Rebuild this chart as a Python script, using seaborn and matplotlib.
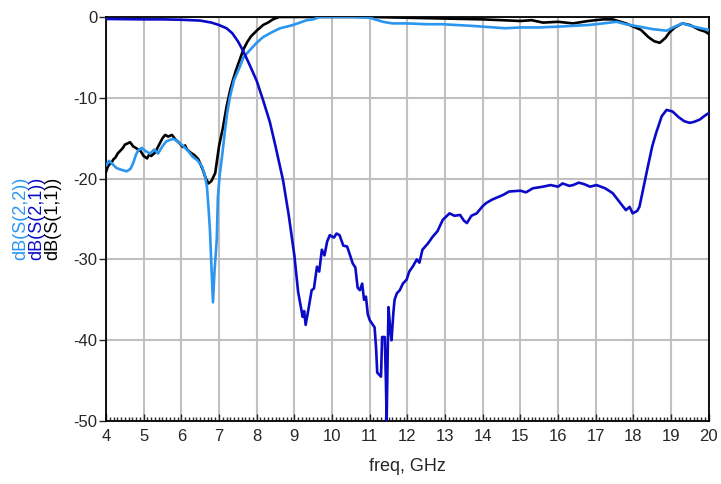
"""
S-parameter plot: dB(S(1,1)), dB(S(2,1)), dB(S(2,2)) vs frequency.
"""

import numpy as np
import pandas as pd
import matplotlib
matplotlib.use("Agg")
import matplotlib.pyplot as plt
from matplotlib.ticker import MultipleLocator
import seaborn as sns

# --- data (freq in GHz, level in dB) ---
s11_freq = [4.0, 4.04, 4.08, 4.15, 4.2, 4.25, 4.31, 4.37, 4.45, 4.5, 4.55, 4.64,
            4.72, 4.82, 4.92, 5.0, 5.09, 5.15, 5.2, 5.3, 5.4, 5.5, 5.57, 5.65,
            5.75, 5.85, 5.95, 6.04, 6.1, 6.15, 6.25, 6.35, 6.45, 6.57, 6.65,
            6.72, 6.8, 6.9, 7.0, 7.1, 7.2, 7.3, 7.37, 7.45, 7.55, 7.65, 7.75,
            7.85, 8.0, 8.17, 8.3, 8.43, 8.6, 9.0, 10.0, 11.0, 12.0, 13.0, 14.0,
            14.5, 15.0, 15.3, 15.6, 16.0, 16.4, 16.8, 17.2, 17.45, 17.8, 18.0,
            18.2, 18.4, 18.55, 18.7, 18.85, 18.96, 19.1, 19.3, 19.5, 19.76,
            19.9, 20.0]
s11_db = [-19.2, -18.6, -18.3, -18.0, -17.6, -17.4, -16.9, -16.6, -16.2, -15.8,
          -15.7, -15.5, -16.0, -16.3, -16.6, -17.2, -17.5, -17.0, -17.2, -16.8,
          -15.9, -15.0, -14.6, -14.8, -14.6, -15.2, -15.6, -16.1, -15.9, -16.4,
          -16.8, -17.1, -17.6, -18.9, -20.0, -20.6, -20.3, -19.3, -16.0, -13.8,
          -11.1, -9.0, -7.8, -6.6, -5.3, -4.0, -3.1, -2.4, -1.7, -1.0, -0.7,
          -0.3, 0.0, 0.0, 0.0, 0.0, -0.1, -0.2, -0.3, -0.4, -0.5, -0.4, -0.7,
          -0.6, -0.8, -0.5, -0.3, -0.3, -0.8, -1.2, -1.6, -2.5, -3.0, -3.2,
          -2.6, -1.9, -1.3, -0.8, -1.0, -1.6, -1.8, -2.1]

s21_freq = [4.0, 5.0, 5.5, 6.0, 6.5, 6.8, 7.0, 7.2, 7.35, 7.5, 7.63, 7.8, 8.0,
            8.17, 8.35, 8.5, 8.7, 8.85, 9.0, 9.1, 9.22, 9.26, 9.3, 9.38, 9.46,
            9.52, 9.6, 9.66, 9.73, 9.8, 9.87, 9.94, 10.05, 10.12, 10.2, 10.3,
            10.4, 10.48, 10.55, 10.62, 10.68, 10.74, 10.8, 10.85, 10.9, 10.95,
            11.0, 11.13, 11.17, 11.2, 11.3, 11.33, 11.4, 11.43, 11.45, 11.48,
            11.5, 11.55, 11.58, 11.63, 11.66, 11.72, 11.8, 11.88, 11.98, 12.05,
            12.14, 12.25, 12.32, 12.4, 12.55, 12.67, 12.8, 12.94, 13.12, 13.25,
            13.4, 13.5, 13.58, 13.7, 13.84, 14.0, 14.1, 14.25, 14.4, 14.55,
            14.7, 15.0, 15.15, 15.33, 15.6, 15.8, 16.0, 16.12, 16.3, 16.4, 16.55,
            16.7, 16.85, 17.02, 17.25, 17.45, 17.6, 17.8, 17.9, 17.98, 18.1,
            18.16, 18.25, 18.38, 18.5, 18.6, 18.75, 18.88, 19.04, 19.2, 19.35,
            19.49, 19.6, 19.76, 19.9, 20.0]
s21_db = [-0.25, -0.3, -0.3, -0.35, -0.45, -0.7, -1.0, -1.4, -2.0, -3.0, -4.1,
          -5.8, -7.9, -10.3, -13.0, -16.0, -20.2, -24.5, -29.5, -34.0, -37.1,
          -36.4, -38.1, -36.0, -33.8, -33.6, -30.9, -31.5, -28.8, -29.5, -27.8,
          -27.0, -27.3, -26.8, -27.0, -28.3, -28.4, -29.5, -30.5, -31.0, -33.5,
          -33.8, -33.0, -35.0, -34.6, -36.8, -37.5, -38.4, -41.0, -44.0, -44.5,
          -39.6, -39.6, -45.0, -50.0, -41.0, -35.9, -39.0, -40.0, -36.5, -35.0,
          -34.2, -33.8, -33.0, -32.5, -31.5, -30.9, -30.0, -30.4, -28.8, -28.0,
          -27.2, -26.5, -25.1, -24.3, -24.6, -24.5, -25.2, -25.5, -24.6, -24.3,
          -23.4, -23.0, -22.6, -22.3, -22.0, -21.6, -21.5, -21.7, -21.2, -21.0,
          -20.8, -21.0, -20.6, -20.9, -20.8, -20.5, -20.7, -21.0, -20.8, -21.2,
          -21.8, -22.7, -23.9, -23.5, -24.3, -24.0, -23.5, -21.5, -18.6, -16.0,
          -14.4, -12.3, -11.5, -11.7, -12.4, -12.9, -13.1, -13.0, -12.7, -12.2,
          -11.9]

s22_freq = [4.0, 4.08, 4.15, 4.28, 4.4, 4.55, 4.65, 4.72, 4.8, 4.86, 4.95, 5.05,
            5.17, 5.28, 5.38, 5.5, 5.6, 5.7, 5.8, 5.9, 5.96, 6.1, 6.2, 6.3,
            6.42, 6.55, 6.62, 6.68, 6.72, 6.76, 6.8, 6.84, 6.88, 6.94, 6.97,
            7.02, 7.08, 7.16, 7.22, 7.29, 7.4, 7.55, 7.65, 7.82, 8.0, 8.17, 8.4,
            8.62, 8.8, 8.96, 9.15, 9.33, 9.5, 9.68, 10.5, 11.0, 11.35, 11.6,
            12.0, 12.5, 12.94, 13.3, 13.7, 14.0, 14.3, 14.6, 15.0, 15.5, 16.0,
            16.4, 16.8, 17.2, 17.55, 17.8, 18.16, 18.5, 18.88, 19.1, 19.3, 19.6,
            20.0]
s22_db = [-18.4, -17.8, -18.1, -18.7, -18.9, -19.1, -18.8, -18.1, -17.0, -16.5,
          -16.2, -16.6, -16.9, -16.4, -16.9, -16.0, -15.4, -15.2, -15.1, -15.4,
          -15.6, -16.2, -16.7, -17.3, -17.7, -18.5, -19.5, -21.0, -23.5, -26.4,
          -31.0, -35.3, -31.5, -27.6, -22.3, -19.5, -17.3, -14.0, -11.8, -9.9,
          -7.8, -6.2, -5.0, -4.1, -3.2, -2.5, -1.9, -1.4, -1.2, -1.0, -0.7,
          -0.4, -0.3, 0.0, 0.0, -0.1, -0.6, -0.8, -0.8, -0.9, -0.9, -1.0, -1.1,
          -1.2, -1.3, -1.4, -1.3, -1.3, -1.2, -1.1, -1.0, -0.8, -0.6, -0.9,
          -1.2, -1.5, -1.7, -1.2, -0.8, -1.2, -1.6]

x_ticks = list(range(4, 21))
y_ticks = [0, -10, -20, -30, -40, -50]

COLOR_S11 = "#000000"
COLOR_S21 = "#0a0ac8"
COLOR_S22 = "#2a96f0"

sns.set_style("white")
plt.rcParams['font.family'] = ['Liberation Sans', 'DejaVu Sans']

fig = plt.figure(figsize=(7.21, 4.84), dpi=100)
ax = fig.add_axes([0.147, 0.130, 0.836, 0.835])

df11 = pd.DataFrame({'freq': s11_freq, 'db': s11_db})
df21 = pd.DataFrame({'freq': s21_freq, 'db': s21_db})
df22 = pd.DataFrame({'freq': s22_freq, 'db': s22_db})

sns.lineplot(data=df11, x='freq', y='db', ax=ax, color=COLOR_S11, lw=1.9,
             estimator=None, zorder=3)
sns.lineplot(data=df22, x='freq', y='db', ax=ax, color=COLOR_S22, lw=1.9,
             estimator=None, zorder=4)
sns.lineplot(data=df21, x='freq', y='db', ax=ax, color=COLOR_S21, lw=1.9,
             estimator=None, zorder=5)

ax.set_xlim(4, 20)
ax.set_ylim(-50, 0)
ax.set_xticks(x_ticks)
ax.set_xticklabels([str(t) for t in x_ticks])
ax.set_yticks(y_ticks)
ax.set_yticklabels([str(t) for t in y_ticks])
ax.xaxis.set_minor_locator(MultipleLocator(0.1))

ax.grid(True, which='major', color='#c0c0c0', lw=1.5)
ax.set_axisbelow(True)
for side in ax.spines.values():
    side.set_color('black')
    side.set_linewidth(1.3)

ax.tick_params(axis='x', which='major', direction='in', length=5, width=1,
               labelsize=12, pad=6, bottom=True)
ax.tick_params(axis='x', which='minor', direction='in', length=3, width=1,
               bottom=True)
ax.tick_params(axis='y', which='major', direction='out', length=5, width=1,
               labelsize=12, pad=1, left=True)

ax.set_xlabel('freq, GHz', fontsize=13, labelpad=10)
ax.set_ylabel('')

# stacked, coloured y-axis labels
ylab_y = 0.548
fig.text(0.029, ylab_y, 'dB(S(2,2))', color=COLOR_S22, rotation=90,
         ha='center', va='center', fontsize=13)
fig.text(0.051, ylab_y, 'dB(S(2,1))', color=COLOR_S21, rotation=90,
         ha='center', va='center', fontsize=13)
fig.text(0.073, ylab_y, 'dB(S(1,1))', color=COLOR_S11, rotation=90,
         ha='center', va='center', fontsize=13)

fig.savefig('out.png', dpi=100)
